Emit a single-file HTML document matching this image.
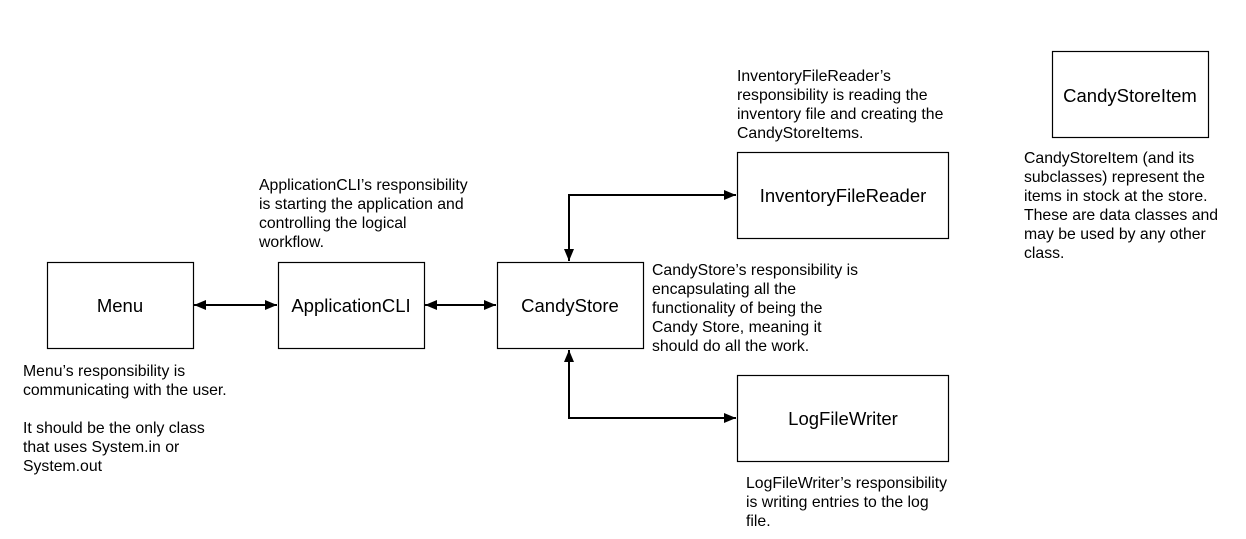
<!DOCTYPE html>
<html><head><style>body{margin:0;background:#fff}svg{display:block}</style></head><body>
<svg width="1246" height="539" xmlns="http://www.w3.org/2000/svg" font-family="Liberation Sans, Arial, sans-serif">
<defs>
<marker id="a" viewBox="0 0 12 10" refX="12" refY="5" markerWidth="12" markerHeight="10" markerUnits="userSpaceOnUse" orient="auto-start-reverse"><path d="M0,0L12,5L0,10z" fill="#000"/></marker>
</defs>
<g fill="#fff" stroke="#000" stroke-width="1.2">
<rect x="47.5" y="262.5" width="146" height="86"/>
<rect x="278.5" y="262.5" width="146" height="86"/>
<rect x="497.5" y="262.5" width="146" height="86"/>
<rect x="737.5" y="152.5" width="211" height="86"/>
<rect x="737.5" y="375.5" width="211" height="86"/>
<rect x="1052.5" y="51.5" width="156" height="86"/>
</g>
<g stroke="#000" stroke-width="2" fill="none">
<line x1="194" y1="305" x2="277" y2="305" marker-start="url(#a)" marker-end="url(#a)"/>
<line x1="425" y1="305" x2="496" y2="305" marker-start="url(#a)" marker-end="url(#a)"/>
<polyline points="569,261 569,195 736,195" marker-start="url(#a)" marker-end="url(#a)"/>
<polyline points="569,350 569,418 736,418" marker-start="url(#a)" marker-end="url(#a)"/>
</g>
<g font-size="18.5" text-anchor="middle" fill="#000">
<text x="351" y="312">ApplicationCLI</text>
<text x="120" y="312">Menu</text>
<text x="570" y="312">CandyStore</text>
<text x="843" y="202">InventoryFileReader</text>
<text x="843" y="425">LogFileWriter</text>
<text x="1130" y="102">CandyStoreItem</text>
</g>
<g font-size="15.8" fill="#000">
<text x="259" y="190">ApplicationCLI’s responsibility</text>
<text x="259" y="209">is starting the application and</text>
<text x="259" y="228">controlling the logical</text>
<text x="259" y="247">workflow.</text>
<text x="23" y="376">Menu’s responsibility is</text>
<text x="23" y="395">communicating with the user.</text>
<text x="23" y="433">It should be the only class</text>
<text x="23" y="452">that uses System.in or</text>
<text x="23" y="471">System.out</text>
<text x="652" y="275">CandyStore’s responsibility is</text>
<text x="652" y="294">encapsulating all the</text>
<text x="652" y="313">functionality of being the</text>
<text x="652" y="332">Candy Store, meaning it</text>
<text x="652" y="351">should do all the work.</text>
<text x="737" y="81">InventoryFileReader’s</text>
<text x="737" y="100">responsibility is reading the</text>
<text x="737" y="119">inventory file and creating the</text>
<text x="737" y="138">CandyStoreItems.</text>
<text x="1024" y="163">CandyStoreItem (and its</text>
<text x="1024" y="182">subclasses) represent the</text>
<text x="1024" y="201">items in stock at the store.</text>
<text x="1024" y="220">These are data classes and</text>
<text x="1024" y="239">may be used by any other</text>
<text x="1024" y="258">class.</text>
<text x="746" y="488">LogFileWriter’s responsibility</text>
<text x="746" y="507">is writing entries to the log</text>
<text x="746" y="526">file.</text>
</g>
</svg>
</body></html>
